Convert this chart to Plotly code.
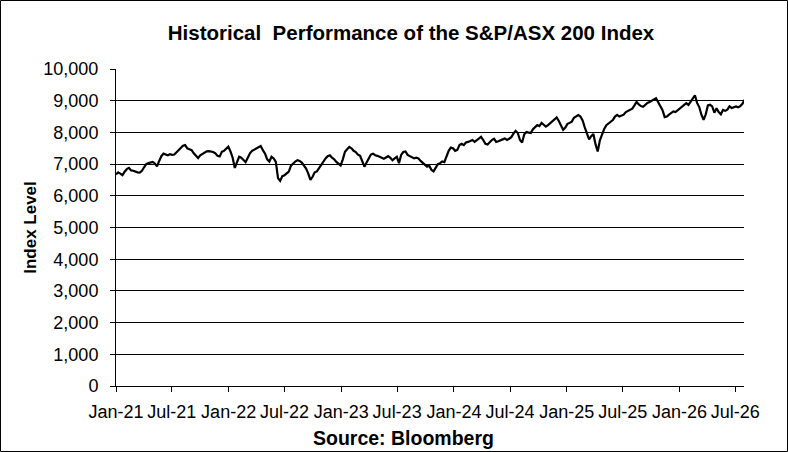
import pandas as pd
import plotly.graph_objects as go

# weekly index levels (Fridays from 1 Jan 2021)
start_date = "2021-01-01"
end_date = "2026-07-29"

levels_2021 = [6670, 6740, 6700, 6650, 6760, 6840, 6880, 6800, 6790, 6760, 6740, 6730, 6790,
               6900, 7000, 7030, 7060, 7070, 7020, 6930, 7100, 7250, 7330, 7300, 7280, 7310,
               7290, 7300, 7370, 7420, 7500, 7580, 7600, 7500, 7470, 7440, 7340, 7250, 7190,
               7280, 7320, 7340, 7400, 7410, 7400, 7380, 7340, 7260, 7240, 7390, 7420, 7500,
               7550]
levels_2022 = [7400, 7200, 6880, 7060, 7230, 7200, 7120, 7060, 7200, 7340, 7420, 7460, 7510,
               7530, 7570, 7440, 7330, 7150, 7080, 7230, 7180, 7070, 6560, 6470, 6620, 6650,
               6700, 6760, 6950, 7030, 7080, 7120, 7100, 7050, 6950, 6860, 6700, 6500, 6600,
               6740, 6770, 6880, 6950, 7080, 7180, 7250, 7280, 7200, 7150, 7070, 7000, 6960]
levels_2023 = [7150, 7390, 7470, 7540, 7500, 7420, 7380, 7300, 7260, 7100, 6920, 7050, 7180,
               7300, 7330, 7280, 7260, 7220, 7200, 7170, 7200, 7250, 7200, 7120, 7180, 7230,
               7030, 7290, 7380, 7400, 7290, 7250, 7230, 7180, 7200, 7180, 7100, 7030, 6980,
               6920, 6950, 6820, 6770, 6900, 7000, 7030, 7080, 7060, 7250, 7420, 7520, 7500]
levels_2024 = [7420, 7450, 7600, 7640, 7600, 7680, 7700, 7720, 7760, 7700, 7760, 7820, 7860,
               7760, 7640, 7620, 7700, 7760, 7800, 7700, 7720, 7760, 7780, 7810, 7760, 7800,
               7850, 7960, 8050, 7980, 7760, 7680, 7940, 8010, 8000, 7980, 8100, 8180, 8230,
               8200, 8300, 8240, 8180, 8230, 8290, 8380, 8440, 8470, 8360, 8200, 8080, 8150]
levels_2025 = [8270, 8300, 8340, 8460, 8520, 8550, 8500, 8380, 8160, 7930, 7780, 7880, 7950,
               7620, 7400, 7750, 7950, 8110, 8230, 8290, 8340, 8390, 8500, 8550, 8500, 8520,
               8560, 8640, 8680, 8700, 8750, 8850, 8960, 8880, 8830, 8810, 8880, 8930, 8960,
               9000, 9060, 9080, 8950, 8820, 8700, 8480, 8500, 8560, 8600, 8660, 8640, 8700]
levels_2026 = [8730, 8820, 8870, 8920, 8870, 8960, 9050, 9170, 8930, 8800, 8560, 8400, 8570,
               8850, 8870, 8820, 8620, 8760, 8640, 8570, 8710, 8680, 8720, 8820, 8770, 8800,
               8820, 8790, 8830, 8900, 9030]

levels = levels_2021 + levels_2022 + levels_2023 + levels_2024 + levels_2025 + levels_2026
dates = pd.date_range(start_date, periods=len(levels), freq="7D")

y_ticks = list(range(0, 10001, 1000))
y_labels = [f"{v:,}" for v in y_ticks]

FONT = "Liberation Sans, Arial, sans-serif"

fig = go.Figure(go.Scatter(
    x=dates,
    y=levels,
    mode="lines",
    line=dict(color="black", width=2.2),
    hoverinfo="x+y",
))

# plot area in pixels: left 116, right 744, top 69, bottom 386
W, H = 788, 452
L, R, T, B = 116, 744, 69, 386
pw, ph = R - L, B - T

fig.update_layout(
    width=W,
    height=H,
    margin=dict(l=L, r=W - R, t=T, b=H - B, pad=0),
    paper_bgcolor="white",
    plot_bgcolor="white",
    showlegend=False,
    font=dict(family=FONT, color="black", size=18),
    title=dict(
        text="<b>Historical  Performance of the S&P/ASX 200 Index</b>",
        x=411 / W, xanchor="center", xref="container",
        y=1 - 33 / H, yanchor="middle",
        font=dict(size=20.5),
    ),
    xaxis=dict(
        range=[start_date, end_date],
        tickformat="%b-%y",
        dtick="M6",
        tick0=start_date,
        ticks="outside",
        ticklen=5,
        tickcolor="black",
        showline=True,
        linecolor="black",
        linewidth=1,
        showgrid=False,
        zeroline=False,
        tickfont=dict(size=18),
        ticklabelstandoff=4,
    ),
    yaxis=dict(
        range=[0, 10000],
        tickvals=y_ticks,
        ticktext=y_labels,
        ticks="outside",
        ticklen=5,
        tickcolor="black",
        showline=True,
        linecolor="black",
        linewidth=1,
        showgrid=True,
        gridcolor="black",
        gridwidth=1,
        zeroline=False,
        tickfont=dict(size=18),
        ticklabelstandoff=8,
        title=dict(text="<b>Index Level</b>", font=dict(size=17), standoff=2),
    ),
    annotations=[dict(
        text="<b>Source: Bloomberg</b>",
        xref="paper", yref="paper",
        x=(403 - L) / pw, y=-(438 - B) / ph,
        xanchor="center", yanchor="middle",
        showarrow=False,
        font=dict(size=19.5),
    )],
    shapes=[dict(
        type="rect", xref="paper", yref="paper",
        x0=(0.5 - L) / pw, x1=(W - 0.5 - L) / pw,
        y0=(B - (H - 0.5)) / ph, y1=(B - 0.5) / ph,
        line=dict(color="black", width=1),
        fillcolor="rgba(0,0,0,0)",
        layer="above",
    )],
)

# drop the browser's default body margin so the figure sits at the page corner
fig.write_html(
    "out.html",
    config={"displayModeBar": False},
    post_script="document.body.style.margin = '0';",
)
